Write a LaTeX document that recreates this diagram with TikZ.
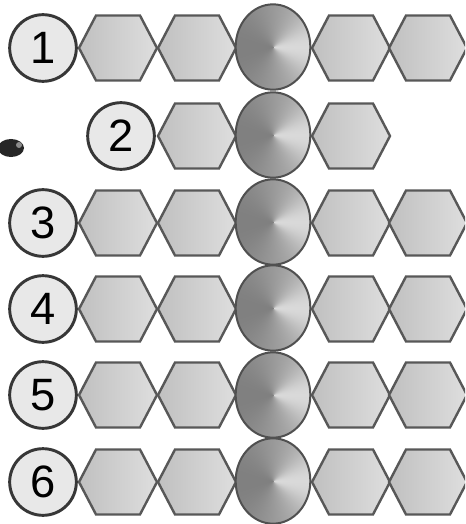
\documentclass[tikz,border=0pt]{standalone}
\usepackage{fontspec}
\setmainfont{Liberation Sans}
\usetikzlibrary{shapes.geometric}
\definecolor{CellRim}  {RGB}{88,88,88}
\definecolor{CellDark} {RGB}{192,192,192}
\definecolor{CellLight}{RGB}{222,222,222}
\definecolor{CoreRim}  {RGB}{80,80,80}
\definecolor{LabelRim} {RGB}{55,55,55}
\definecolor{LabelFill}{RGB}{232,232,232}
% conic shading for the central discs: light streak towards the right
\pgfdeclarefunctionalshading{conic}{\pgfpoint{-50bp}{-50bp}}{\pgfpoint{50bp}{50bp}}{}{
  exch 0.001 add atan cos dup 1 add 0.5 mul dup mul dup mul dup mul
  0.15 mul exch 0.1 mul add 0.6 add dup dup}

\begin{document}
\begin{tikzpicture}[x=0.75pt,y=-0.75pt,
  numcircle/.style={circle,draw=LabelRim,fill=LabelFill,line width=2.2pt,
                    minimum size=50pt,inner sep=0pt,
                    font=\fontsize{34pt}{34pt}\selectfont},
  hexfill/.style={draw=CellRim,line width=1.8pt,
                  left color=CellDark,right color=CellLight},
  hexcell/.pic={\path[hexfill] (-39,0) -- (-22,-32.5) -- (22,-32.5)
                -- (39,0) -- (22,32.5) -- (-22,32.5) -- cycle;},
  core/.style={ellipse,shade,shading=conic,draw=CoreRim,line width=1.5pt,
               minimum width=56pt,minimum height=64pt,inner sep=0pt}]
  \useasboundingbox (0,0) rectangle (465,524);
  \clip (0,0) rectangle (465,524);
  \fill[white] (0,0) rectangle (465,524);
  % full rows
  \foreach \row/\yy in {1/48,3/223,4/309,5/395,6/482}{
    \pic at (118,\yy) {hexcell};
    \pic at (197,\yy) {hexcell};
    \pic at (351,\yy) {hexcell};
    \pic at (428,\yy) {hexcell};
    \node[numcircle] (num\row) at (43,\yy) {\row};
  }
  % short row
  \pic at (197,136) {hexcell};
  \pic at (351,136) {hexcell};
  \node[numcircle] (num2) at (121,136) {2};
  \fill[black!85] (11,148) ellipse [x radius=13, y radius=9];
  \fill[black!45] (19,145) circle [radius=3];
  % central discs
  \foreach \row/\yy in {1/47,2/135,3/222,4/308,5/395,6/481}
    \node[core] (core\row) at (273,\yy) {};
\end{tikzpicture}
\end{document}
